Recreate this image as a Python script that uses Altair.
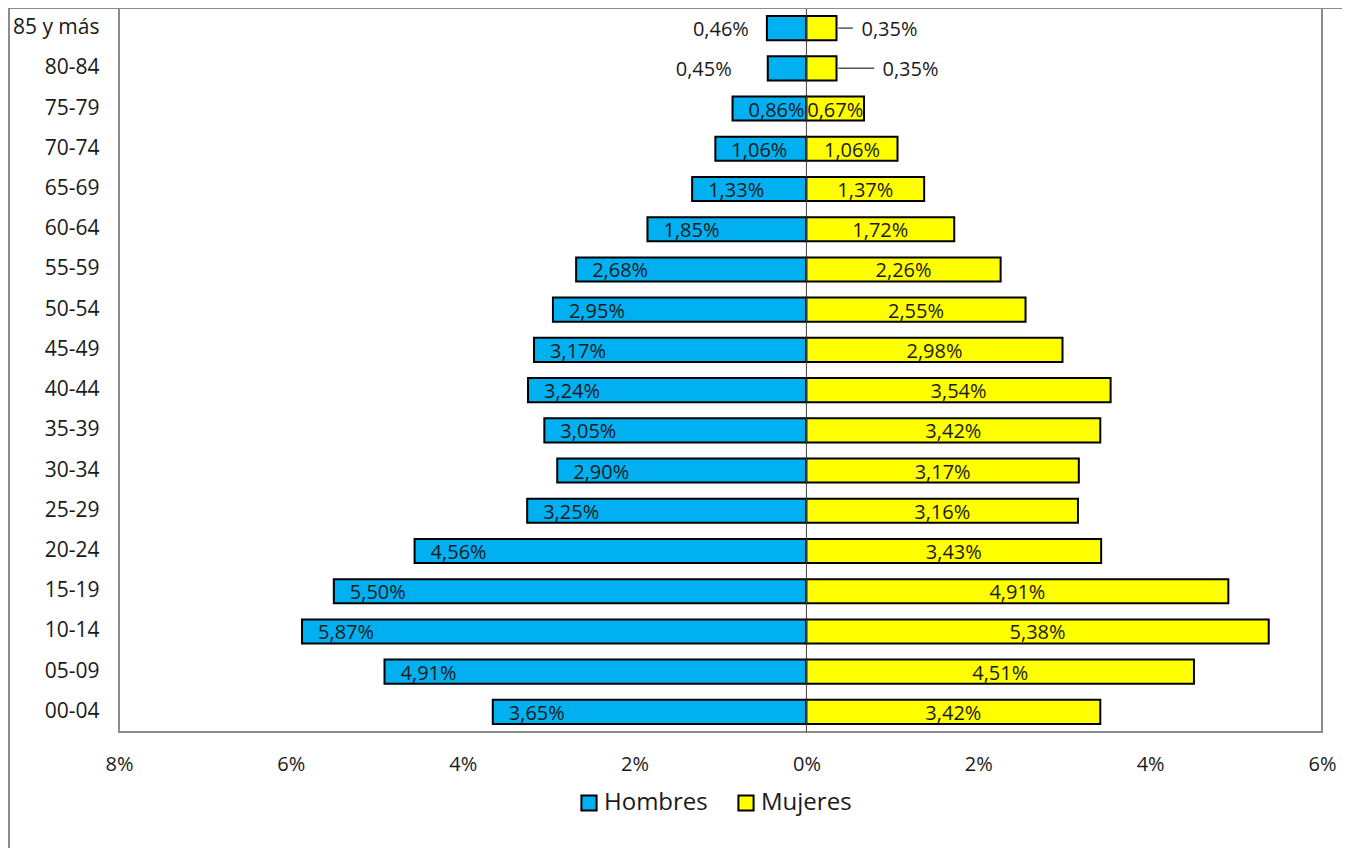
import altair as alt
import pandas as pd

ages = ["85 y más", "80-84", "75-79", "70-74", "65-69", "60-64", "55-59", "50-54",
        "45-49", "40-44", "35-39", "30-34", "25-29", "20-24", "15-19", "10-14",
        "05-09", "00-04"]
hombres = [0.46, 0.45, 0.86, 1.06, 1.33, 1.85, 2.68, 2.95, 3.17, 3.24, 3.05, 2.90,
           3.25, 4.56, 5.50, 5.87, 4.91, 3.65]
mujeres = [0.35, 0.35, 0.67, 1.06, 1.37, 1.72, 2.26, 2.55, 2.98, 3.54, 3.42, 3.17,
           3.16, 3.43, 4.91, 5.38, 4.51, 3.42]
x_ticks = [-8, -6, -4, -2, 0, 2, 4, 6]
series = ["Hombres", "Mujeres"]
colors = ["#00B0F0", "#FFFF00"]

rows = []
for a, h, m in zip(ages, hombres, mujeres):
    rows.append({"age": a, "sexo": "Hombres", "pct": h, "signed": -h,
                 "label": f"{h:.2f}".replace(".", ",") + "%"})
    rows.append({"age": a, "sexo": "Mujeres", "pct": m, "signed": m,
                 "label": f"{m:.2f}".replace(".", ",") + "%"})
df = pd.DataFrame(rows)

FONT = "Open Sans"
TXT = "#1a1a1a"

xscale = alt.Scale(domain=[-8, 6], nice=False, zero=False)
yscale = alt.Scale(paddingInner=0.4, paddingOuter=0.2)

base = alt.Chart(df)

bars = base.mark_bar(stroke="black", strokeWidth=2).encode(
    x=alt.X("signed:Q", scale=xscale,
            axis=alt.Axis(values=x_ticks, labelExpr="abs(datum.value) + '%'",
                          title=None, grid=False, ticks=False, domain=False,
                          labelFontSize=20, labelPadding=22, labelFont=FONT,
                          labelColor=TXT, labelFlush=False, labelOverlap=False,
                          labelBaseline="top")),
    y=alt.Y("age:N", sort=ages, scale=yscale,
            axis=alt.Axis(title=None, ticks=False, domain=False, labelFontSize=21,
                          labelPadding=20, labelFont=FONT, labelColor=TXT)),
    color=alt.Color("sexo:N", scale=alt.Scale(domain=series, range=colors),
                    legend=alt.Legend(title=None, orient="none", direction="horizontal",
                                      legendX=458, legendY=783,
                                      symbolType="square", symbolSize=230,
                                      symbolStrokeColor="black", symbolStrokeWidth=2,
                                      labelFontSize=24, labelFont=FONT, labelColor=TXT,
                                      labelOffset=3, columnPadding=26)),
)

tkw = dict(fontSize=20, font=FONT, color=TXT, baseline="middle", dy=2)

hm_text = base.transform_filter(
    "datum.sexo == 'Hombres' && datum.pct >= 0.5"
).mark_text(align="left", dx=16, **tkw).encode(
    x=alt.X("signed:Q", scale=xscale), y=alt.Y("age:N", sort=ages, scale=yscale),
    text="label:N")

mj_text = base.transform_filter(
    "datum.sexo == 'Mujeres' && datum.pct >= 0.5"
).transform_calculate(mid="datum.signed / 2").mark_text(align="center", **tkw).encode(
    x=alt.X("mid:Q", scale=xscale), y=alt.Y("age:N", sort=ages, scale=yscale),
    text="label:N")

hm85 = base.transform_filter(
    "datum.sexo == 'Hombres' && datum.age == '85 y más'"
).mark_text(align="right", dx=-18, **tkw).encode(
    x=alt.X("signed:Q", scale=xscale), y=alt.Y("age:N", sort=ages, scale=yscale),
    text="label:N")

hm80 = base.transform_filter(
    "datum.sexo == 'Hombres' && datum.age == '80-84'"
).mark_text(align="right", dx=-36, **tkw).encode(
    x=alt.X("signed:Q", scale=xscale), y=alt.Y("age:N", sort=ages, scale=yscale),
    text="label:N")

mj85 = base.transform_filter(
    "datum.sexo == 'Mujeres' && datum.age == '85 y más'"
).mark_text(align="left", dx=25, **tkw).encode(
    x=alt.X("signed:Q", scale=xscale), y=alt.Y("age:N", sort=ages, scale=yscale),
    text="label:N")

mj80 = base.transform_filter(
    "datum.sexo == 'Mujeres' && datum.age == '80-84'"
).mark_text(align="left", dx=46, **tkw).encode(
    x=alt.X("signed:Q", scale=xscale), y=alt.Y("age:N", sort=ages, scale=yscale),
    text="label:N")

lead85 = base.transform_filter(
    "datum.sexo == 'Mujeres' && datum.age == '85 y más'"
).transform_calculate(x1="datum.signed + 0.02", x2="datum.signed + 0.19").mark_rule(
    color="#555555", strokeWidth=1.5).encode(
    x=alt.X("x1:Q", scale=xscale), x2="x2:Q",
    y=alt.Y("age:N", sort=ages, scale=yscale, bandPosition=0.5))

lead80 = base.transform_filter(
    "datum.sexo == 'Mujeres' && datum.age == '80-84'"
).transform_calculate(x1="datum.signed + 0.02", x2="datum.signed + 0.44").mark_rule(
    color="#555555", strokeWidth=1.5).encode(
    x=alt.X("x1:Q", scale=xscale), x2="x2:Q",
    y=alt.Y("age:N", sort=ages, scale=yscale, bandPosition=0.5))

zero = alt.Chart(pd.DataFrame({"z": [0]})).mark_rule(color="#404040", strokeWidth=1).encode(
    x=alt.X("z:Q", scale=xscale))

frame_df = pd.DataFrame({"a": [0]})
frame_left = alt.Chart(frame_df).mark_rule(color="#8c8c8c", strokeWidth=2).encode(
    x=alt.value(-110), y=alt.value(0), y2=alt.value(840))
frame_top = alt.Chart(frame_df).mark_rule(color="#8c8c8c", strokeWidth=2).encode(
    x=alt.value(-111), x2=alt.value(1223), y=alt.value(0))

chart = alt.layer(
    bars, hm_text, mj_text, hm85, hm80, mj85, mj80, lead85, lead80, zero,
    frame_left, frame_top
).properties(
    width=1203, height=724,
    autosize=alt.AutoSizeParams(type="none"),
    padding={"left": 111, "top": 0, "right": 20, "bottom": 116},
).configure_view(stroke="#8c8c8c", strokeWidth=2)

chart.save("out.html", embed_options={"renderer": "svg", "actions": False})
